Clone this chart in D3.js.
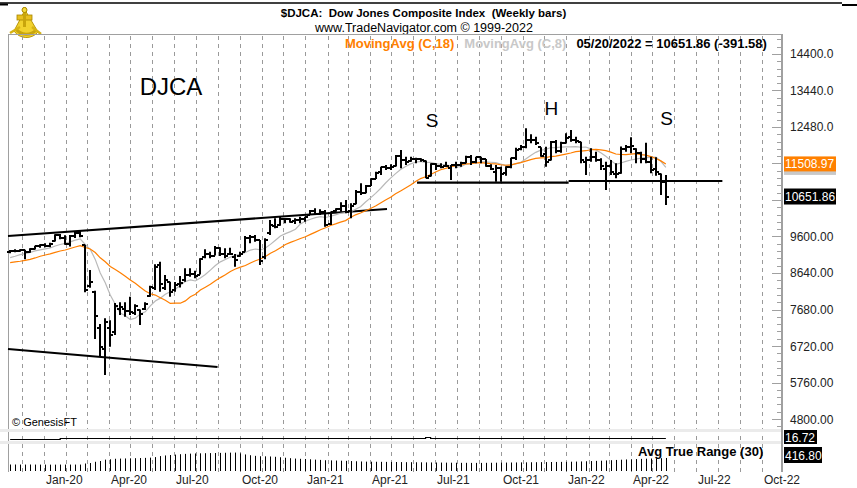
<!DOCTYPE html>
<html>
<head>
<meta charset="utf-8">
<script src="https://cdn.jsdelivr.net/npm/d3@7"></script>
<style>
  body { margin: 0; background: #fff; }
  svg { display: block; font-family: Arial, "Liberation Sans", sans-serif; }
</style>
</head>
<body>
<script>
// weekly bars, Friday dates from 2019-11-15 to 2022-05-20
const firstWeek = new Date(2019, 10, 15);
const lastWeek = new Date(2022, 4, 21);

const opens = [
  9180, 9210, 9220, 9245, 9180, 9260, 9350, 9370, 9360, 9480,
  9640, 9560, 9410, 9600, 9700, 9370, 8300, 8150, 7200, 6650,
  7200, 7100, 7700, 7700, 7650, 7600, 7660, 7700, 8030, 8250,
  8850, 8250, 8400, 8200, 8350, 8450, 8600, 8620, 8600, 9050,
  9150, 9100, 9300, 9150, 9150, 9050, 9080, 9200, 9560, 9580,
  9500, 9050, 9700, 9880, 9900, 10050, 10060, 10000, 10030, 10070,
  10170, 10280, 10200, 10240, 9920, 10260, 10330, 10400, 10280, 10450,
  10780, 10740, 10930, 11120, 11290, 11420, 11410, 11450, 11720, 11600,
  11580, 11650, 11640, 11590, 11200, 11500, 11450, 11450, 11400, 11480,
  11480, 11540, 11700, 11560, 11680, 11640, 11450, 11300, 11400, 11260,
  11420, 11660, 11900, 11960, 12150, 12150, 11950, 11760, 11600, 12080,
  11850, 12060, 12220, 12130, 12080, 11550, 11620, 11700, 11600, 11380,
  11450, 11250, 11260, 11900, 11950, 11900, 11800, 11650, 11550, 11370,
  11250, 11043
];
const highs = [
  9246, 9263, 9263, 9250, 9289, 9359, 9394, 9421, 9438, 9660,
  9665, 9630, 9640, 9730, 9770, 9380, 8720, 8170, 7300, 7450,
  7400, 7850, 7869, 7869, 8018, 7816, 7680, 7869, 8307, 8868,
  8939, 8588, 8413, 8400, 8560, 8763, 8763, 8701, 9026, 9262,
  9201, 9350, 9315, 9289, 9306, 9140, 9201, 9613, 9639, 9639,
  9508, 9552, 10034, 10078, 10122, 10078, 10078, 10078, 10122, 10122,
  10297, 10341, 10314, 10297, 10260, 10341, 10499, 10560, 10473, 10824,
  11000, 10955, 11130, 11306, 11437, 11481, 11499, 11744, 11876, 11700,
  11700, 11674, 11656, 11600, 11525, 11525, 11525, 11569, 11481, 11569,
  11569, 11726, 11744, 11700, 11700, 11640, 11499, 11481, 11437, 11450,
  11674, 11937, 12007, 12445, 12288, 12226, 11950, 11963, 12112, 12139,
  12095, 12314, 12401, 12226, 12090, 11700, 11919, 11832, 11656, 11569,
  11612, 11524, 11970, 12007, 12208, 11919, 11830, 12068, 11700, 11682,
  11260, 11217
];
const lows = [
  9158, 9184, 9202, 9000, 9170, 9255, 9307, 9316, 9316, 9470,
  9530, 9380, 9340, 9560, 9580, 8132, 8250, 6905, 6450, 5960,
  6700, 7010, 7536, 7492, 7536, 7536, 7273, 7667, 8018, 8193,
  8150, 8193, 8018, 8150, 8260, 8412, 8544, 8500, 8600, 9026,
  9026, 9100, 9087, 9026, 9113, 8807, 9070, 9200, 9420, 9464,
  8850, 9000, 9639, 9815, 9880, 9946, 9964, 9929, 9946, 9990,
  10165, 10165, 10165, 9859, 9900, 10253, 10254, 10210, 10078, 10450,
  10692, 10736, 10930, 11110, 11218, 11349, 11349, 11440, 11393, 11481,
  11569, 11525, 11569, 11130, 11180, 11349, 11393, 11437, 11087, 11393,
  11437, 11525, 11481, 11525, 11525, 11437, 11349, 11043, 11043, 11200,
  11393, 11612, 11870, 11919, 12051, 12007, 11700, 11437, 11600, 11788,
  11800, 12051, 12095, 12051, 11525, 11218, 11569, 11569, 11349, 10824,
  11217, 11130, 11250, 11831, 11787, 11524, 11524, 11524, 11261, 11200,
  10691, 10428
];
const closes = [
  9210, 9220, 9245, 9180, 9260, 9350, 9370, 9360, 9400, 9640,
  9560, 9400, 9600, 9700, 9620, 8200, 8400, 7500, 6700, 7350,
  7000, 7780, 7750, 7640, 7620, 7780, 7560, 7820, 8260, 8800,
  8350, 8450, 8150, 8330, 8380, 8600, 8620, 8560, 9000, 9150,
  9080, 9300, 9150, 9100, 9130, 8980, 9150, 9560, 9580, 9520,
  8950, 9500, 9900, 9850, 10050, 10060, 9990, 10030, 10060, 10100,
  10280, 10200, 10240, 9900, 10250, 10320, 10400, 10250, 10400, 10780,
  10750, 10920, 11100, 11280, 11420, 11400, 11440, 11720, 11600, 11560,
  11650, 11640, 11600, 11150, 11500, 11450, 11420, 11450, 11480, 11480,
  11540, 11700, 11550, 11680, 11640, 11450, 11380, 11400, 11250, 11420,
  11660, 11880, 11950, 12150, 12150, 12050, 11720, 11550, 12080, 11850,
  12050, 12200, 12150, 12100, 11600, 11600, 11700, 11620, 11450, 11450,
  11300, 11250, 11900, 11950, 11980, 11800, 11650, 11550, 11360, 11300,
  11043.44, 10651.86
];
// weekly closes before the first bar, only used to start the moving averages
const priorCloses = [8820, 8960, 8780, 8760, 8700, 8580, 8760, 8870, 8930, 8900,
  8930, 8900, 8960, 8990, 9060, 9140, 9160];

const atrValues = [
  208, 208, 206, 206, 208, 206, 205, 205, 204, 204, 206, 206, 206, 206, 206,
  240, 255, 295, 320, 365, 375, 392, 398, 402, 406, 410, 415, 420, 428,
  445, 478, 498, 512, 525, 538, 548, 556, 562, 566, 570, 573, 576, 580, 584, 588, 590,
  565, 530, 505, 485, 472, 470, 465, 455, 440, 425, 410, 398, 390, 385,
  375, 365, 355, 345, 340, 335, 330, 325, 318, 312, 305, 300, 298, 296, 294, 292, 290, 288, 285, 283, 282, 280,
  278, 276, 274, 272, 270, 268, 266, 264, 262, 262, 260, 260, 260, 262, 264, 266, 268, 270, 272, 274, 276, 278,
  280, 282, 284, 286, 288, 290, 292, 294, 298, 302, 306, 312, 318, 324, 330, 338, 346, 354, 362, 370, 376, 382,
  388, 394, 400, 406, 410, 416.8
];
// runs of [number of weeks, value] for the small middle study
const indRuns = [[10, 16.55], [73, 16.72], [1, 16.85], [48, 16.72]];

const priceTicks = [14400, 13440, 12480, 11520, 10560, 9600, 8640, 7680, 6720, 5760, 4800];
const lastClose = 10651.86, lastChange = -391.58, lastMA18 = 11508.97, lastInd = 16.72, lastAtr = 416.80;

const upperTrend = [[new Date(2019, 10, 12), 9613], [new Date(2021, 3, 25), 10323]];
const lowerTrend = [[new Date(2019, 10, 12), 6641], [new Date(2020, 7, 31), 6168]];
const neck1 = [[new Date(2021, 5, 6), 11015], [new Date(2022, 0, 4), 11015]];
const neck2 = [[new Date(2022, 0, 4), 11060], [new Date(2022, 7, 7), 11060]];
const notes = [
  {text: "DJCA", date: new Date(2020, 5, 27), price: 13322, size: 24},
  {text: "S", date: new Date(2021, 5, 27), price: 12480, size: 19},
  {text: "H", date: new Date(2021, 11, 11), price: 12796, size: 19},
  {text: "S", date: new Date(2022, 4, 21), price: 12533, size: 19}
];

const width = 857, height = 488;
const dates = d3.timeFriday.range(firstWeek, lastWeek);
const bars = dates.map((d, i) => ({date: d, o: opens[i], h: highs[i], l: lows[i], c: closes[i]}));

const allCloses = priorCloses.concat(closes);
const sma = n => closes.map((_, i) => d3.mean(allCloses.slice(i + priorCloses.length - n + 1, i + priorCloses.length + 1)));
const ma18 = sma(18), ma8 = sma(8);

const indValues = indRuns.flatMap(([n, v]) => d3.range(n).map(() => v));

const x = d3.scaleTime()
    .domain([new Date(2019, 10, 12), new Date(2022, 9, 28)])
    .range([8, 781]);
const y = d3.scaleLinear().domain([4537, 14926]).range([429, 34]);
const yInd = d3.scaleLinear().domain([16, 17.5]).range([442.5, 433.5]);
const yAtr = d3.scaleLinear().domain([0, 640]).range([471, 451]);
const px = d => Math.round(x(d));

const svg = d3.select("body").append("svg")
    .attr("width", width)
    .attr("height", height);

svg.append("rect").attr("width", width).attr("height", height).attr("fill", "#fff");

// top rule
svg.append("line").attr("x1", 0).attr("x2", 842).attr("y1", 3).attr("y2", 3)
    .attr("stroke", "#000").attr("stroke-width", 1.5);
svg.append("rect").attr("x", 0).attr("y", 3.5).attr("width", 8).attr("height", 2).attr("fill", "#000");
svg.append("rect").attr("x", 842).attr("y", 4).attr("width", 15).attr("height", 2).attr("fill", "#000");

// logo
const logo = svg.append("g").attr("transform", "translate(10,7)");
logo.append("path").attr("d", "M15,3 L4,24 A15,15 0 0 0 28,25 Z")
    .attr("fill", "#f2d22e").attr("stroke", "#b8960a").attr("stroke-width", 1);
logo.append("path").attr("d", "M6,22 A13,13 0 0 0 26,23")
    .attr("fill", "none").attr("stroke", "#c9a50c").attr("stroke-width", 3);
logo.append("rect").attr("x", 7).attr("y", 8).attr("width", 15).attr("height", 5)
    .attr("fill", "#e8c020").attr("stroke", "#a88600").attr("stroke-width", 0.8);
logo.append("rect").attr("x", 13).attr("y", 0).attr("width", 3).attr("height", 20).attr("fill", "#c9a50c");
logo.append("circle").attr("cx", 14.5).attr("cy", 3).attr("r", 2.5).attr("fill", "#f5dc40").attr("stroke", "#a88600");
logo.append("path").attr("d", "M0,26 L10,20 M22,20 L31,27").attr("stroke", "#d6b314").attr("stroke-width", 2.5);

// titles
svg.append("text").attr("x", 423.5).attr("y", 17).attr("text-anchor", "middle")
    .attr("font-size", 11.5).attr("font-weight", "bold").style("white-space", "pre")
    .text("$DJCA:  Dow Jones Composite Index  (Weekly bars)");
svg.append("text").attr("x", 424).attr("y", 32).attr("text-anchor", "middle")
    .attr("font-size", 12.5).attr("fill", "#000")
    .text("www.TradeNavigator.com © 1999-2022");

// month grid
const months = d3.timeMonth.range(x.domain()[0], x.domain()[1]);
svg.append("g").selectAll("line").data(months).join("line")
    .attr("x1", d => px(d) + 0.5).attr("x2", d => px(d) + 0.5)
    .attr("y1", 36).attr("y2", 472)
    .attr("stroke", "#9a9a9a").attr("stroke-dasharray", "4,4");

// frame
svg.append("line").attr("x1", 8).attr("x2", 782).attr("y1", 34.5).attr("y2", 34.5).attr("stroke", "#a0a0a0");
svg.append("line").attr("x1", 8.5).attr("x2", 8.5).attr("y1", 34).attr("y2", 472).attr("stroke", "#a0a0a0");

// panel separators
svg.append("rect").attr("x", 0).attr("y", 429).attr("width", 782).attr("height", 3).attr("fill", "#ebebeb");
svg.append("rect").attr("x", 0).attr("y", 441).attr("width", 782).attr("height", 3).attr("fill", "#ebebeb");

// trend lines
const tline = d3.line().x(d => x(d[0])).y(d => y(d[1]));
svg.append("g").selectAll("path").data([upperTrend, lowerTrend, neck1, neck2]).join("path")
    .attr("d", tline).attr("fill", "none").attr("stroke", "#000").attr("stroke-width", 2.2);

// moving averages
const maLine = d3.line().x((d, i) => x(dates[i])).y(d => y(d));
svg.append("path").datum(ma8).attr("d", maLine).attr("fill", "none")
    .attr("stroke", "#b9b9b9").attr("stroke-width", 1.2);
svg.append("path").datum(ma18).attr("d", maLine).attr("fill", "none")
    .attr("stroke", "#ff7f00").attr("stroke-width", 1.2);

// OHLC bars
const g = svg.append("g").attr("stroke", "#000").attr("stroke-width", 2);
g.selectAll(".hl").data(bars).join("line")
    .attr("x1", d => px(d.date)).attr("x2", d => px(d.date))
    .attr("y1", d => y(d.h)).attr("y2", d => y(d.l));
g.selectAll(".op").data(bars).join("line")
    .attr("x1", d => px(d.date) - 3).attr("x2", d => px(d.date))
    .attr("y1", d => Math.round(y(d.o))).attr("y2", d => Math.round(y(d.o)));
g.selectAll(".cl").data(bars).join("line")
    .attr("x1", d => px(d.date)).attr("x2", d => px(d.date) + 3)
    .attr("y1", d => Math.round(y(d.c))).attr("y2", d => Math.round(y(d.c)));

// annotations
svg.append("g").selectAll("text").data(notes).join("text")
    .attr("x", d => x(d.date)).attr("y", d => y(d.price))
    .attr("text-anchor", "middle").attr("font-size", d => d.size)
    .text(d => d.text);

svg.append("text").attr("x", 12).attr("y", 426).attr("font-size", 11).text("© GenesisFT");

// middle study
svg.append("path").datum(indValues)
    .attr("d", d3.line().x((d, i) => x(dates[i])).y(d => Math.round(yInd(d)) + 0.5).curve(d3.curveStepAfter))
    .attr("fill", "none").attr("stroke", "#000").attr("stroke-width", 1.2);

// ATR
svg.append("g").selectAll("line").data(atrValues).join("line")
    .attr("x1", (d, i) => px(dates[i]) + 0.5).attr("x2", (d, i) => px(dates[i]) + 0.5)
    .attr("y1", yAtr(0)).attr("y2", d => yAtr(d))
    .attr("stroke", "#000").attr("stroke-width", 1);
svg.append("text").attr("x", 638).attr("y", 456).attr("font-size", 13).attr("font-weight", "bold")
    .text("Avg True Range (30)");

// right axis
svg.append("line").attr("x1", 782).attr("x2", 782).attr("y1", 34).attr("y2", 472)
    .attr("stroke", "#a0a0a0").attr("stroke-width", 2);
const minor = d3.range(4608, 14926, 192);
svg.append("g").selectAll("line").data(minor).join("line")
    .attr("x1", 777).attr("x2", 782)
    .attr("y1", d => Math.round(y(d)) + 0.5).attr("y2", d => Math.round(y(d)) + 0.5)
    .attr("stroke", "#a0a0a0");
svg.append("g").selectAll("line").data(priceTicks).join("line")
    .attr("x1", 772).attr("x2", 782)
    .attr("y1", d => Math.round(y(d)) + 0.5).attr("y2", d => Math.round(y(d)) + 0.5)
    .attr("stroke", "#a0a0a0");

// value boxes sit on the axis and cover the tick labels beneath them
const boxes = [
  {v: ma8[ma8.length - 1], h: 15, w: 52, fill: "#c8c8c8", txt: null},
  {v: lastMA18, h: 15, w: 52, fill: "#ff8000", txt: lastMA18.toFixed(2)},
  {v: lastClose, h: 16, w: 52, fill: "#000", txt: lastClose.toFixed(2)}
];
const covered = d => boxes.some(b => Math.abs(y(b.v) - y(d)) < 12);
svg.append("g").selectAll("text").data(priceTicks.filter(d => !covered(d))).join("text")
    .attr("x", 790).attr("y", d => y(d) + 4.5).attr("font-size", 12).attr("fill", "#222")
    .text(d => d >= 10000 ? d.toFixed(1) : d.toFixed(2));

function valueBox(yc, h, w, fill, txt) {
  svg.append("rect").attr("x", 784).attr("y", yc - h / 2).attr("width", w).attr("height", h).attr("fill", fill);
  if (txt) svg.append("text").attr("x", 785).attr("y", yc + 4.5).attr("font-size", 12)
      .attr("fill", "#fff").text(txt);
}
boxes.forEach(b => valueBox(y(b.v), b.h, b.w, b.fill, b.txt));
valueBox(437, 14, 33, "#000", lastInd.toFixed(2));
valueBox(455, 16, 38, "#000", lastAtr.toFixed(2));

// legend line
const legend = [
  {t: "MovingAvg (C,18)", c: "#ff8000"},
  {t: "MovingAvg (C,8)", c: "#c8c8c8"},
  {t: `05/20/2022 = ${lastClose.toFixed(2)} (${lastChange.toFixed(2)})`, c: "#000"}
];
let lx = 345;
legend.forEach(l => {
  const t = svg.append("text").attr("x", lx).attr("y", 48).attr("font-size", 13)
      .attr("font-weight", "bold").attr("fill", l.c).text(l.t);
  lx += t.node().getComputedTextLength() + 10;
});

// x axis labels
const quarters = months.filter(m => m.getMonth() % 3 === 0);
svg.append("g").selectAll("text").data(quarters).join("text")
    .attr("x", d => px(d) + 2).attr("y", 484).attr("font-size", 12).attr("fill", "#222")
    .text(d3.timeFormat("%b-%y"));
</script>
</body>
</html>
